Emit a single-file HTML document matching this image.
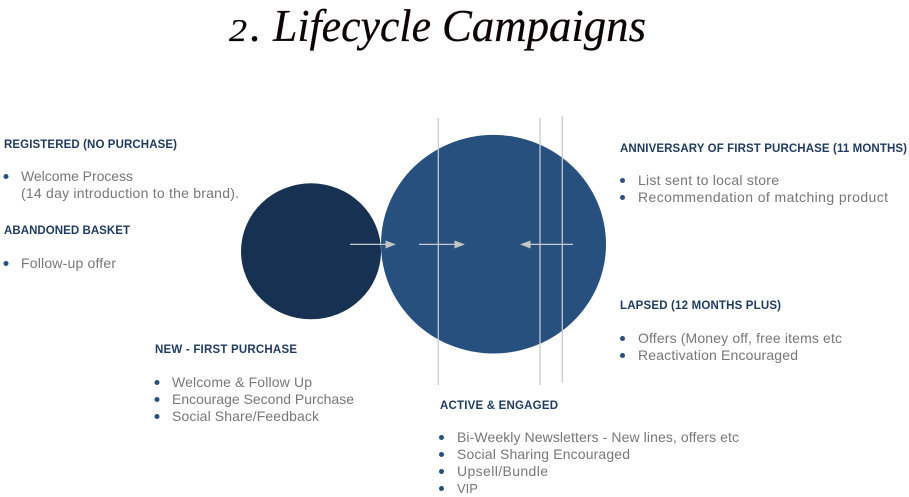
<!DOCTYPE html>
<html lang="en">
<head>
<meta charset="utf-8">
<title>2. Lifecycle Campaigns</title>
<style>
html,body{margin:0;padding:0;background:#fff;width:909px;height:497px;overflow:hidden}
svg{display:block}
.h{font:bold 11.5px "Liberation Sans",sans-serif;fill:#1f3a5f}
.b{font:14px "Liberation Sans",sans-serif;fill:#777}
.t{font:italic 45px "Liberation Serif",serif;fill:#0d0505;stroke:#0d0505;stroke-width:.25}
</style>
</head>
<body>
<svg width="909" height="497" viewBox="0 0 909 497" xmlns="http://www.w3.org/2000/svg">
<text class="t" x="229" y="41" style="font-size:32px" textLength="18" lengthAdjust="spacingAndGlyphs">2</text>
<text class="t" x="250" y="41">.</text>
<text class="t" x="273" y="41" textLength="158" lengthAdjust="spacingAndGlyphs">Lifecycle</text>
<text class="t" x="442" y="41" textLength="204" lengthAdjust="spacingAndGlyphs">Campaigns</text>

<ellipse cx="311" cy="251.300" rx="70" ry="68" fill="#163151"/>
<ellipse cx="493.500" cy="244.200" rx="112.500" ry="109.300" fill="#27507f"/>

<g stroke="#c6c9cd" stroke-width="1.300" fill="none">
<line x1="438.300" y1="118" x2="438.300" y2="385"/>
<line x1="540" y1="118" x2="540" y2="385"/>
<line x1="562.300" y1="116" x2="562.300" y2="382.500"/>
<line x1="350" y1="244.400" x2="386" y2="244.400"/>
<line x1="419" y1="244.400" x2="455" y2="244.400"/>
<line x1="573" y1="244.400" x2="530" y2="244.400"/>
</g>
<g fill="#c4c4c4">
<polygon points="385.500,240.500 396,244.400 385.500,248.500"/>
<polygon points="454.500,240.500 465,244.400 454.500,248.500"/>
<polygon points="530.500,240.500 520,244.400 530.500,248.500"/>
</g>

<g fill="#27507f">
<circle cx="6" cy="176.500" r="2.500"/>
<circle cx="6" cy="263.500" r="2.500"/>
<circle cx="157" cy="382.500" r="2.500"/>
<circle cx="157" cy="399.500" r="2.500"/>
<circle cx="157" cy="416.500" r="2.500"/>
<circle cx="441.500" cy="437.500" r="2.500"/>
<circle cx="441.500" cy="454.500" r="2.500"/>
<circle cx="441.500" cy="471.500" r="2.500"/>
<circle cx="441.500" cy="488.500" r="2.500"/>
<circle cx="622.500" cy="180.500" r="2.500"/>
<circle cx="622.500" cy="197.500" r="2.500"/>
<circle cx="622.500" cy="338.500" r="2.500"/>
<circle cx="622.500" cy="355.500" r="2.500"/>
</g>

<text class="h" x="4" y="148" textLength="173" lengthAdjust="spacing">REGISTERED (NO PURCHASE)</text>
<text class="b" x="21" y="181" textLength="112" lengthAdjust="spacing">Welcome Process</text>
<text class="b" x="21" y="198" textLength="218" lengthAdjust="spacing">(14 day introduction to the brand).</text>
<text class="h" x="4" y="234" textLength="126" lengthAdjust="spacing">ABANDONED BASKET</text>
<text class="b" x="21" y="268" textLength="95" lengthAdjust="spacing">Follow-up offer</text>

<text class="h" x="155" y="353" textLength="142" lengthAdjust="spacing">NEW - FIRST PURCHASE</text>
<text class="b" x="172" y="387" textLength="140" lengthAdjust="spacing">Welcome &amp; Follow Up</text>
<text class="b" x="172" y="404" textLength="182" lengthAdjust="spacing">Encourage Second Purchase</text>
<text class="b" x="172" y="421" textLength="147" lengthAdjust="spacing">Social Share/Feedback</text>

<text class="h" x="440" y="409" textLength="118" lengthAdjust="spacing">ACTIVE &amp; ENGAGED</text>
<text class="b" x="457" y="442" textLength="282" lengthAdjust="spacing">Bi-Weekly Newsletters - New lines, offers etc</text>
<text class="b" x="457" y="459" textLength="173" lengthAdjust="spacing">Social Sharing Encouraged</text>
<text class="b" x="457" y="476" textLength="91" lengthAdjust="spacing">Upsell/Bundle</text>
<text class="b" x="457" y="493" style="font-size:13px">VIP</text>

<text class="h" x="620" y="152" textLength="287" lengthAdjust="spacing">ANNIVERSARY OF FIRST PURCHASE (11 MONTHS)</text>
<text class="b" x="638" y="185" textLength="141" lengthAdjust="spacing">List sent to local store</text>
<text class="b" x="638" y="202" textLength="250" lengthAdjust="spacing">Recommendation of matching product</text>

<text class="h" x="620" y="309" textLength="161" lengthAdjust="spacing">LAPSED (12 MONTHS PLUS)</text>
<text class="b" x="638" y="343" textLength="204" lengthAdjust="spacing">Offers (Money off, free items etc</text>
<text class="b" x="638" y="360" textLength="160" lengthAdjust="spacing">Reactivation Encouraged</text>
</svg>
</body>
</html>
